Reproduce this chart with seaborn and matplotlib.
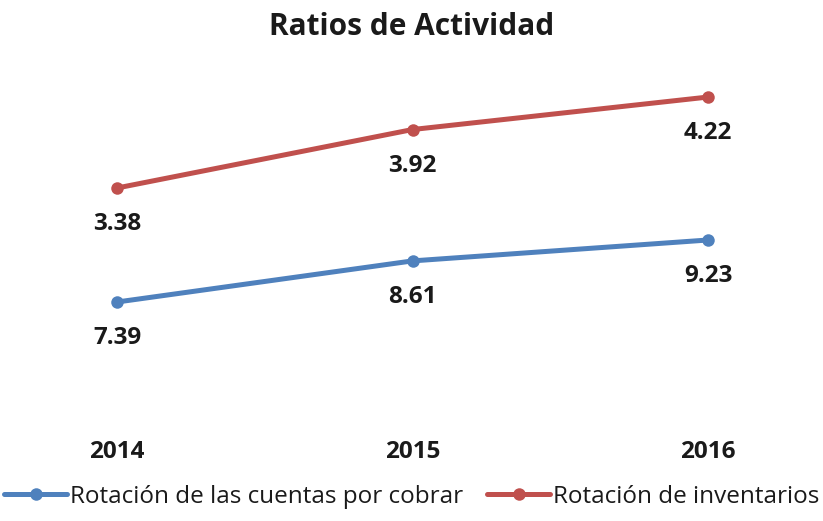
import matplotlib
matplotlib.use("Agg")
import matplotlib.pyplot as plt
from matplotlib.lines import Line2D
import seaborn as sns
import pandas as pd

# datos del gráfico
years = ["2014", "2015", "2016"]
cuentas_por_cobrar = [7.39, 8.61, 9.23]
inventarios = [3.38, 3.92, 4.22]

serie_cuentas = "Rotación de las cuentas por cobrar"
serie_inventarios = "Rotación de inventarios"

azul = "#4F81BD"
rojo = "#C0504D"
texto = "#1a1a1a"

sns.set_theme(style="white")
plt.rcParams["font.family"] = ["Open Sans", "DejaVu Sans"]

df = pd.DataFrame({
    "pos": range(len(years)),
    "cuentas": cuentas_por_cobrar,
    "inventarios": inventarios,
})

fig = plt.figure(figsize=(8.23, 5.21), dpi=100)
H = 521
ax = fig.add_axes([0, (H - 432) / H, 1, 372 / H])
ax2 = ax.twinx()

# serie azul en el eje principal, roja en el secundario
sns.lineplot(data=df, x="pos", y="cuentas", ax=ax, color=azul, linewidth=3.6,
             marker="o", markersize=9, markeredgewidth=0)
sns.lineplot(data=df, x="pos", y="inventarios", ax=ax2, color=rojo, linewidth=3.6,
             marker="o", markersize=9, markeredgewidth=0)

ax.set_xlim(-0.396, 2.389)
ax.set_ylim(3.533, 14.571)
ax2.set_ylim(1.127, 4.562)

for a, vals in ((ax, cuentas_por_cobrar), (ax2, inventarios)):
    for i, v in enumerate(vals):
        a.annotate(f"{v:.2f}", (i, v), xytext=(0, -26), textcoords="offset points",
                   ha="center", va="center", fontsize=17.5, fontweight="bold", color=texto)
    a.set_yticks([])
    a.set_ylabel("")
    for s in a.spines.values():
        s.set_visible(False)

ax.set_xticks(range(len(years)))
ax.set_xticklabels(years, fontsize=17.5, fontweight="bold", color=texto)
ax.tick_params(axis="x", length=0, pad=6)
ax.set_xlabel("")

fig.text(0.5, 1 - 27 / H, "Ratios de Actividad", ha="center", va="center",
         fontsize=21.5, fontweight="bold", color=texto)

handles = [
    Line2D([], [], color=azul, linewidth=3.6, marker="o", markersize=9, markeredgewidth=0),
    Line2D([], [], color=rojo, linewidth=3.6, marker="o", markersize=9, markeredgewidth=0),
]
fig.legend(handles, [serie_cuentas, serie_inventarios], loc="center",
           bbox_to_anchor=(0.5, 1 - 497 / H), ncol=2, frameon=False,
           fontsize=17.5, handlelength=2.6, handletextpad=0.1, columnspacing=1.0,
           labelcolor=texto)

fig.savefig("out.png", dpi=100)
